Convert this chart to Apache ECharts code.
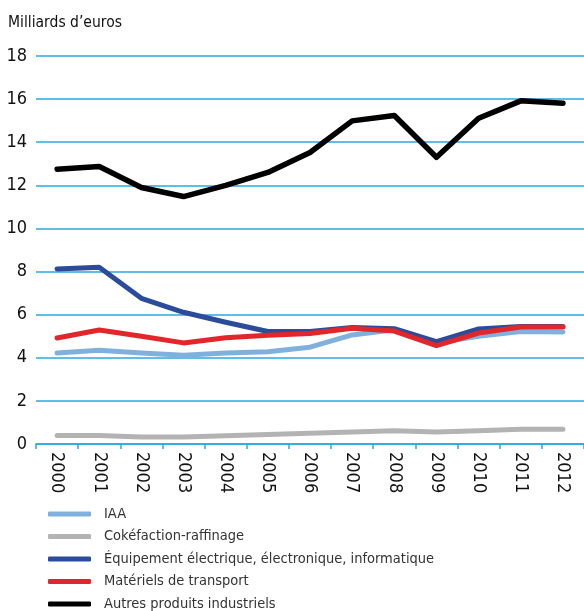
<!DOCTYPE html>
<html><head><meta charset="utf-8">
<script src="https://cdn.jsdelivr.net/npm/echarts@6/dist/echarts.min.js"></script>
<style>html,body{margin:0;padding:0;background:#fff}#c{width:584px;height:611px}</style>
</head><body><div id="c"></div>
<script>
const years = ["2000","2001","2002","2003","2004","2005","2006","2007","2008","2009","2010","2011","2012"];
const seriesNames = ["IAA","Cokéfaction-raffinage","Équipement électrique, électronique, informatique","Matériels de transport","Autres produits industriels"];
const iaa = [4.22,4.35,4.22,4.12,4.22,4.28,4.49,5.06,5.3,4.7,5.0,5.22,5.2];
const coke = [0.39,0.39,0.33,0.33,0.38,0.44,0.5,0.56,0.62,0.56,0.62,0.69,0.69];
const equip = [8.12,8.2,6.76,6.11,5.65,5.22,5.22,5.41,5.35,4.75,5.34,5.45,5.45];
const transport = [4.92,5.29,5.0,4.69,4.93,5.05,5.13,5.37,5.24,4.56,5.15,5.43,5.43];
const autres = [12.75,12.87,11.9,11.48,12.0,12.6,13.52,14.99,15.24,13.3,15.11,15.92,15.81];
const yTicks = [0,2,4,6,8,10,12,14,16,18];
const colors = ["#80b1de","#b3b3b3","#2b4c9b","#e3262a","#000000"];
const FONT = "'Liberation Sans Narrow','DejaVu Sans Condensed',sans-serif";
const values = [iaa, coke, equip, transport, autres];
const chart = echarts.init(document.getElementById('c'), null, {renderer:'canvas'});
chart.setOption({
  animation:false,
  title:{text:"Milliards d\u2019euros", left:8, top:15, padding:0, textStyle:{fontFamily:FONT, fontSize:15.5, fontWeight:'normal', color:'#111'}},
  grid:{left:36, top:56, width:554, height:388, containLabel:false},
  xAxis:{type:'category', data:years, boundaryGap:true,
    axisLine:{lineStyle:{color:'#29a8e0', width:1.5}},
    axisTick:{show:true, length:5, lineStyle:{color:'#29a8e0', width:1.5}},
    axisLabel:{rotate:-90, fontFamily:FONT, fontSize:18, color:'#111', margin:8}},
  yAxis:{type:'value', min:yTicks[0], max:yTicks[yTicks.length-1], interval:2,
    axisLine:{show:false}, axisTick:{show:false},
    axisLabel:{fontFamily:FONT, fontSize:18, color:'#111', margin:9},
    splitLine:{lineStyle:{color:'#29a8e0', width:1.5}}},
  legend: seriesNames.map((n,i)=>({orient:'vertical', left:48, top:505 + i*22.5, padding:0, icon:'roundRect', itemWidth:43, itemHeight:5,
    data:[n],
    textStyle:{fontFamily:FONT, fontSize:14.5, color:'#333', padding:[0,0,0,8], lineHeight:18}})),
  series: seriesNames.map((n,i)=>({name:n, type:'line', data:values[i], symbol:'none',
    lineStyle:{width:i===4?5.5:5, color:colors[i], cap:'round', join:'round'}, itemStyle:{color:colors[i]}, z:2+i}))
});
</script></body></html>
